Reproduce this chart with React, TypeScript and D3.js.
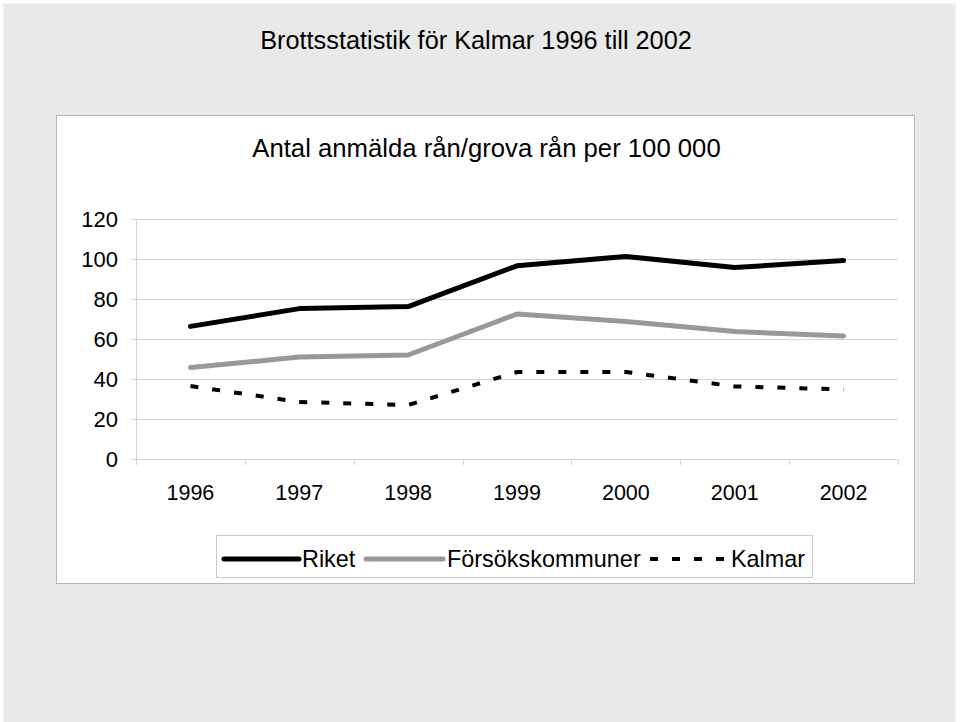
import React from "react";
import * as d3 from "d3";

const years = ["1996", "1997", "1998", "1999", "2000", "2001", "2002"];
const riket = [66.3, 75.2, 76.2, 96.6, 101.3, 95.7, 99.2];
const forsok = [45.7, 51, 52, 72.5, 68.7, 63.7, 61.5];
const kalmar = [36.5, 28.5, 27, 43.5, 43.5, 36.3, 34.8];
const yTicks = [0, 20, 40, 60, 80, 100, 120];

const series = [
  { name: "Riket", values: riket, color: "#000000", width: 5, dash: "" },
  { name: "Försökskommuner", values: forsok, color: "#999999", width: 5, dash: "" },
  { name: "Kalmar", values: kalmar, color: "#000000", width: 4, dash: "8,14" },
];

export default function App() {
  const W = 960, H = 722;
  const left = 136, right = 898, top = 219, bottom = 459;
  const x = d3.scaleBand<string>().domain(years).range([left, right]);
  const y = d3.scaleLinear().domain([0, 120]).range([bottom, top]);
  const line = d3
    .line<number>()
    .x((_, i) => (x(years[i]) as number) + x.bandwidth() / 2)
    .y((d) => y(d));
  const font = "'Liberation Sans', Arial, sans-serif";
  const bounds = years.map((yr) => x(yr) as number).concat([right]);

  const legendItems = [
    { s: series[0], x1: 224, x2: 299, tx: 302 },
    { s: series[1], x1: 366, x2: 443, tx: 447 },
    { s: series[2], x1: 650, x2: 728, tx: 731 },
  ];

  return (
    <svg
      width={W}
      height={H}
      style={{ position: "absolute", left: 0, top: 0, background: "#ffffff" }}
      fontFamily={font}
    >
      <rect x={3.5} y={3.5} width={952} height={720} fill="#e9e9e9" stroke="#f2f2f2" strokeWidth={1} />
      <text x={476} y={49} fontSize={25.3} textAnchor="middle" fill="#000">
        Brottsstatistik för Kalmar 1996 till 2002
      </text>
      <rect x={56.5} y={115.5} width={858} height={468} fill="#ffffff" stroke="#b8b8b8" strokeWidth={1} />
      <text x={486.5} y={157} fontSize={25.7} textAnchor="middle" fill="#000">
        Antal anmälda rån/grova rån per 100 000
      </text>
      {yTicks.map((t) => (
        <g key={t}>
          <line x1={left - 5} x2={right} y1={Math.round(y(t)) + 0.5} y2={Math.round(y(t)) + 0.5} stroke="#d4d4d4" strokeWidth={1} />
          <text x={118} y={y(t)} dy="0.35em" fontSize={22} textAnchor="end" fill="#000">
            {t}
          </text>
        </g>
      ))}
      <line x1={left + 0.5} x2={left + 0.5} y1={top} y2={bottom} stroke="#d4d4d4" />
      {bounds.map((b, i) => (
        <line key={i} x1={Math.round(b) + 0.5} x2={Math.round(b) + 0.5} y1={bottom} y2={bottom + 6} stroke="#d4d4d4" />
      ))}
      {years.map((yr) => (
        <text key={yr} x={(x(yr) as number) + x.bandwidth() / 2} y={500} fontSize={21.5} textAnchor="middle" fill="#000">
          {yr}
        </text>
      ))}
      {series.map((s) => (
        <path
          key={s.name}
          d={line(s.values) || ""}
          fill="none"
          stroke={s.color}
          strokeWidth={s.width}
          strokeDasharray={s.dash || undefined}
          strokeLinecap={s.dash ? "butt" : "round"}
          strokeLinejoin="round"
        />
      ))}
      <rect x={216.5} y={535.5} width={596} height={42} fill="#ffffff" stroke="#c8c8c8" strokeWidth={1} />
      {legendItems.map((it) => (
        <g key={it.s.name}>
          <line
            x1={it.x1}
            x2={it.x2}
            y1={559}
            y2={559}
            stroke={it.s.color}
            strokeWidth={it.s.width}
            strokeDasharray={it.s.dash || undefined}
            strokeLinecap={it.s.dash ? "butt" : "round"}
          />
          <text x={it.tx} y={567} fontSize={23.4} fill="#000">
            {it.s.name}
          </text>
        </g>
      ))}
    </svg>
  );
}
